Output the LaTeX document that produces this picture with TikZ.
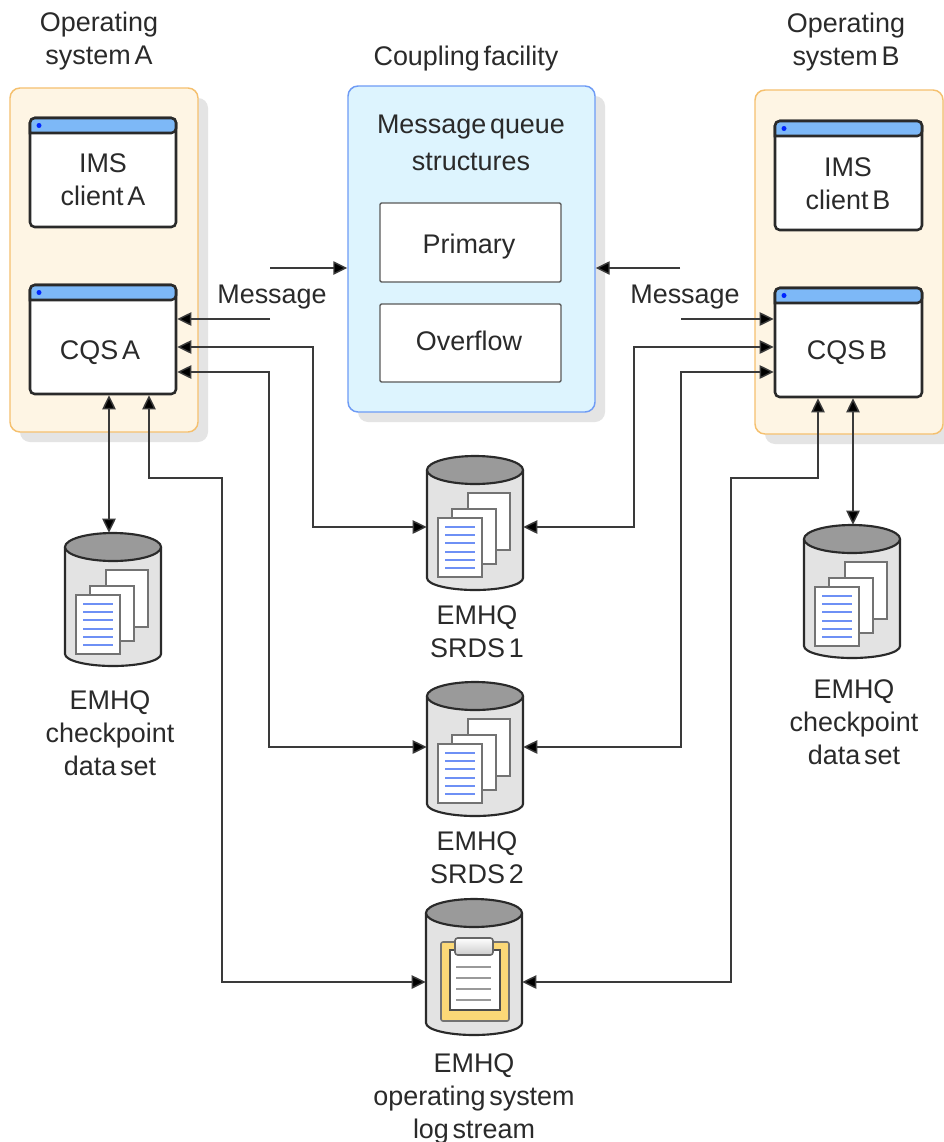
\documentclass[tikz,border=0pt]{standalone}
\usepackage{fontspec}
\setmainfont[WordSpace=0.5]{Liberation Sans}
\usetikzlibrary{arrows.meta}
\definecolor{ink}{HTML}{2A2A2A}
\definecolor{wire}{HTML}{3A3A3A}
\definecolor{orangeline}{HTML}{F5C06E}
\definecolor{orangefill}{HTML}{FEF5E4}
\definecolor{blueline}{HTML}{6E9BF5}
\definecolor{bluefill}{HTML}{DDF4FE}
\definecolor{titlebar}{HTML}{7DB8F7}
\definecolor{dropgray}{HTML}{E4E4E4}
\definecolor{cylbody}{HTML}{E3E3E3}
\definecolor{cyltop}{HTML}{9A9A9A}
\definecolor{gold}{HTML}{FBD877}
\definecolor{doclines}{HTML}{6E90F5}
\tikzset{
  lbl/.style={font=\fontsize{20.2}{24.7}\selectfont,text=ink,align=center,inner sep=0pt,yshift=-1.5pt},
  conn/.style={draw=wire,line width=1.1pt,-{Triangle[length=10.5pt,width=10pt,fill=black]}},
  conn2/.style={draw=wire,line width=1.1pt,{Triangle[length=10.5pt,width=10pt,fill=black]}-{Triangle[length=10.5pt,width=10pt,fill=black]}},
  pagebox/.style={draw=black!55,line width=1.3pt,fill=white},
}
\newcommand{\panelbox}[7]{% name x1 y1 x2 y2 fill line
  \fill[dropgray,rounded corners=7.5pt] (#2+10,#3+10) rectangle (#4+10,#5+10);
  \node[draw=#7,fill=#6,line width=1.1pt,rounded corners=7.5pt,inner sep=0pt,
    minimum width={(#4-#2)*0.75pt},minimum height={(#5-#3)*0.75pt}] (#1) at ({(#2+#4)/2},{(#3+#5)/2}) {};
}
\newcommand{\winbox}[5]{% name x1 y1 x2 y2
  \node[draw=ink,fill=white,line width=1.9pt,rounded corners=3.5pt,inner sep=0pt,
    minimum width={(#4-#2)*0.75pt},minimum height={(#5-#3)*0.75pt}] (#1) at ({(#2+#4)/2},{(#3+#5)/2}) {};
  \draw[ink,fill=titlebar,line width=1.9pt] (#2,#3+15) [rounded corners=3.5pt] -- (#2,#3) -- (#4,#3) -- (#4,#3+15) [sharp corners] -- cycle;
  \fill[blue!85!cyan] (#2+9,#3+7.5) circle[radius=2.5];
}
\newcommand{\cylbox}[4]{% name cx cy bottom-of-side
  \node[inner sep=0pt,minimum width=72pt,minimum height={(#4-#3+28)*0.75pt}] (#1) at (#2,{(#3+#4)/2}) {};
  \draw[ink,fill=cylbody,line width=1.6pt] (#2-48,#3) -- (#2-48,#4) arc[start angle=180,end angle=0,x radius=48,y radius=12] -- (#2+48,#3);
  \draw[ink,fill=cyltop,line width=1.6pt] (#2,#3) ellipse[x radius=48,y radius=14];
}
\newcommand{\docstack}[2]{% cx cy
  \begin{scope}[shift={(#1,#2)}]
    \draw[pagebox] (-7,23) rectangle (35,80);
    \draw[pagebox] (-23,39) rectangle (21,94);
    \draw[pagebox] (-37,48) rectangle (7,107);
    \foreach \yy in {57,65,73,82,90,98} \draw[doclines,line width=1.4pt] (-30,\yy) -- (0,\yy);
  \end{scope}
}
\begin{document}
\begin{tikzpicture}[x=0.75pt,y=-0.75pt]
\useasboundingbox (0,0) rectangle (944,1142);
\fill[white] (0,0) rectangle (944,1142);

\panelbox{sysA}{10}{88}{198}{432}{orangefill}{orangeline}
\panelbox{sysB}{755}{90}{943}{434}{orangefill}{orangeline}
\panelbox{cf}{348}{86}{595}{412}{bluefill}{blueline}

\winbox{imsA}{30}{118}{176}{227}
\winbox{cqsA}{30}{285}{176}{394}
\winbox{imsB}{775}{121}{922}{230}
\winbox{cqsB}{775}{288}{922}{397}

\node[draw=black!65,fill=white,line width=1.1pt,rounded corners=1pt,inner sep=0pt,minimum width=135.75pt,minimum height=59.25pt] (primary) at (470.5,242.5) {};
\node[draw=black!65,fill=white,line width=1.1pt,rounded corners=1pt,inner sep=0pt,minimum width=135.75pt,minimum height=58.5pt] (overflow) at (470.5,343) {};

\cylbox{srdsone}{475}{470}{578}
\docstack{475}{470}
\cylbox{srdstwo}{475}{696}{804}
\docstack{475}{696}
\cylbox{chkA}{113}{547}{654}
\docstack{113}{547}
\cylbox{chkB}{852}{539}{646}
\docstack{852}{539}
\cylbox{logst}{474}{913}{1023}
% clipboard
\draw[black!55,fill=gold,line width=1.2pt,rounded corners=1.5pt] (441,942) rectangle (509,1021);
\draw[black!70,fill=white,line width=1.2pt] (450,950) rectangle (500,1010);
\draw[black!60,top color=white,bottom color=black!20,line width=1.2pt,rounded corners=2pt] (455,938) rectangle (493,955);
\foreach \yy in {967,978,989,1000} \draw[black!40,line width=1.5pt] (456,\yy) -- (491,\yy);

% free ends and ports
\coordinate (inA) at (270,268);
\coordinate (inB) at (680,268);
\coordinate (outA) at (270,319);
\coordinate (outB) at (681,319);

% connectors
\draw[conn] (inA) -- (cf.west |- inA);
\draw[conn] (inB) -- (cf.east |- inB);
\draw[conn] (outA) -- (cqsA.east |- outA);
\draw[conn] (outB) -- (cqsB.west |- outB);
\draw[conn2] (cqsA.east |- 0,347) -- (313,347) -- (313,527) -- (srdsone.west |- 0,527);
\draw[conn2] (cqsA.east |- 0,372) -- (269,372) -- (269,747) -- (srdstwo.west |- 0,747);
\draw[conn2] (cqsB.west |- 0,347) -- (634,347) -- (634,527) -- (srdsone.east |- 0,527);
\draw[conn2] (cqsB.west |- 0,372) -- (681,372) -- (681,747) -- (srdstwo.east |- 0,747);
\draw[conn2] (cqsA.south -| 109,0) -- (chkA.north -| 109,0);
\draw[conn2] (cqsB.south -| 853,0) -- (chkB.north -| 853,0);
\draw[conn2] (cqsA.south -| 149,0) -- (149,478) -- (222,478) -- (222,982) -- (logst.west |- 0,982);
\draw[conn2] (cqsB.south -| 818,0) -- (818,478) -- (731,478) -- (731,982) -- (logst.east |- 0,982);

% labels
\node[lbl] (tA) at (99,39) {Operating\\system A};
\node[lbl] (tB) at (846,40) {Operating\\system B};
\node[lbl] (tC) at (466,57) {Coupling facility};
\node[lbl] (tM) at (471,141) {Message queue\\[3.5pt]structures};
\node[lbl] (tP) at (469,245) {Primary};
\node[lbl] (tO) at (469,339) {Overflow};
\node[lbl] (tIA) at (103,178) {IMS\\client A};
\node[lbl] (tIB) at (848,182) {IMS\\client B};
\node[lbl] (tQA) at (100,351) {CQS A};
\node[lbl] (tQB) at (847,351) {CQS B};
\node[lbl] (tMA) at (272,295) {Message};
\node[lbl] (tMB) at (685,295) {Message};
\node[lbl] (tCA) at (110,731) {EMHQ\\checkpoint\\data set};
\node[lbl] (tCB) at (854,720) {EMHQ\\checkpoint\\data set};
\node[lbl] (tS1) at (477,630) {EMHQ\\SRDS 1};
\node[lbl] (tS2) at (477,856) {EMHQ\\SRDS 2};
\node[lbl] (tL) at (474,1097) {EMHQ\\operating system\\log stream};
\end{tikzpicture}
\end{document}
